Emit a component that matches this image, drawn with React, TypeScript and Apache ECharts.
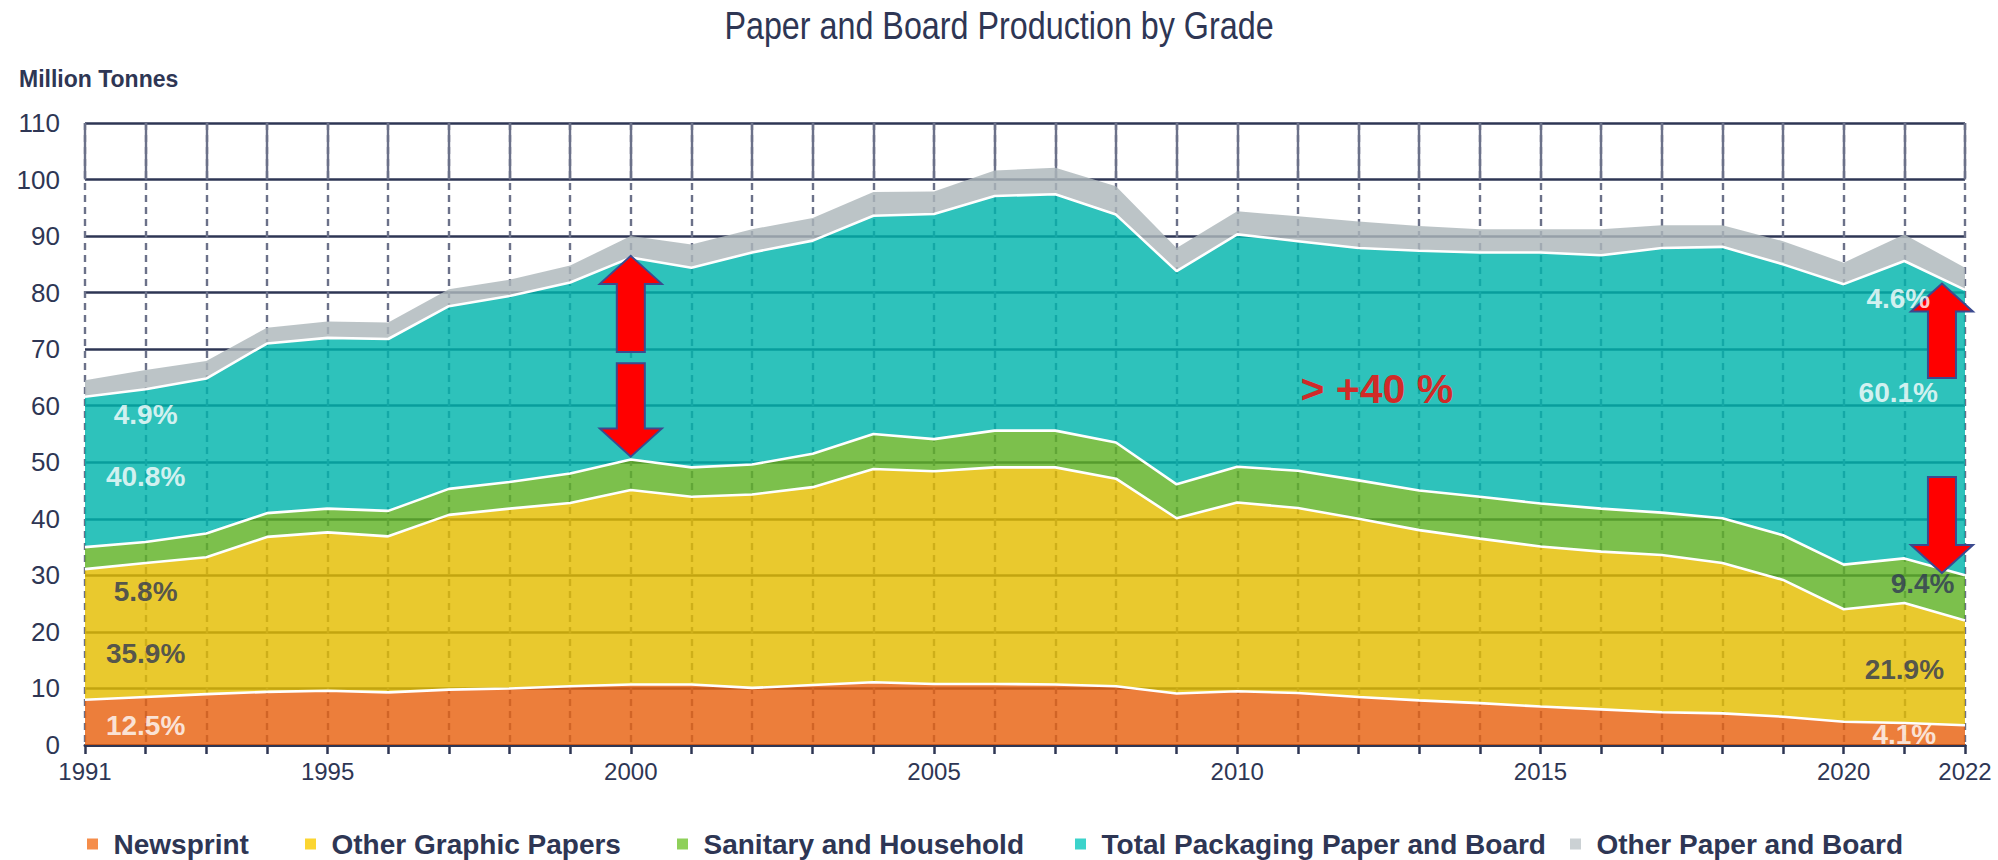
import React, { useEffect, useRef } from "react";
import * as echarts from "echarts";

const years = [
  1991, 1992, 1993, 1994, 1995, 1996, 1997, 1998, 1999, 2000, 2001, 2002, 2003, 2004, 2005, 2006,
  2007, 2008, 2009, 2010, 2011, 2012, 2013, 2014, 2015, 2016, 2017, 2018, 2019, 2020, 2021, 2022,
];
const newsprint = [
  8.0, 8.5, 9.0, 9.4, 9.6, 9.3, 9.8, 10.0, 10.4, 10.7, 10.7, 10.1, 10.6, 11.1, 10.8, 10.8,
  10.7, 10.4, 9.1, 9.5, 9.2, 8.5, 7.9, 7.4, 6.8, 6.3, 5.8, 5.6, 5.0, 4.1, 3.9, 3.5,
];
const otherGraphic = [
  23.1, 23.7, 24.2, 27.4, 28.0, 27.6, 30.9, 31.8, 32.4, 34.4, 33.2, 34.2, 35.0, 37.7, 37.6, 38.3,
  38.4, 36.7, 31.0, 33.4, 32.7, 31.5, 30.1, 29.1, 28.3, 27.9, 27.8, 26.6, 24.2, 19.9, 21.2, 18.5,
];
const sanitary = [
  3.9, 3.7, 4.2, 4.2, 4.2, 4.5, 4.6, 4.7, 5.2, 5.4, 5.2, 5.3, 5.9, 6.2, 5.7, 6.5,
  6.5, 6.4, 6.0, 6.3, 6.6, 6.8, 7.0, 7.4, 7.6, 7.6, 7.5, 7.9, 7.9, 7.9, 7.9, 8.0,
];
const packaging = [
  26.6, 27.0, 27.4, 30.0, 30.2, 30.4, 32.3, 32.9, 33.8, 35.7, 35.3, 37.5, 37.7, 38.6, 39.8, 41.5,
  41.8, 40.3, 37.7, 41.1, 40.6, 41.1, 42.4, 43.2, 44.4, 44.8, 46.8, 48.0, 47.9, 49.6, 52.6, 50.5,
];
const otherPaperBoard = [
  2.9, 3.4, 3.1, 2.8, 2.9, 2.9, 3.0, 2.9, 3.0, 3.8, 4.1, 4.1, 4.0, 4.2, 4.0, 4.5,
  4.7, 5.0, 4.1, 4.1, 4.4, 4.7, 4.4, 4.1, 4.1, 4.6, 4.0, 3.8, 4.1, 3.8, 4.7, 3.9,
];
const seriesNames = [
  "Newsprint",
  "Other Graphic Papers",
  "Sanitary and Household",
  "Total Packaging Paper and Board",
  "Other Paper and Board",
];
const xTickLabels = ["1991", "1995", "2000", "2005", "2010", "2015", "2020", "2022"];
const share1991 = ["12.5%", "35.9%", "5.8%", "40.8%", "4.9%"];
const share2022 = ["4.1%", "21.9%", "9.4%", "60.1%", "4.6%"];
const growthText = "> +40 %";
const chartTitle = "Paper and Board Production by Grade";
const unitLabel = "Million Tonnes";

// ---- styling / layout (kept apart from data) ----
const FONT = "'Liberation Sans', Arial, sans-serif";
const NAVY = "#2e3654";
const areaColors = [
  "rgba(232,98,16,0.82)",
  "rgba(228,189,0,0.82)",
  "rgba(95,178,36,0.82)",
  "rgba(0,181,172,0.82)",
  "rgba(173,183,187,0.82)",
];
const legendColors = ["#f58d4a", "#fbd531", "#8fd05a", "#3cd3cb", "#cbd1d4"];
const legendLeft = [87, 305, 677, 1075, 1570];
const share1991Pos = [
  [1992.0, 3.5],
  [1992.0, 16.2],
  [1992.0, 27.2],
  [1992.0, 47.4],
  [1992.0, 58.4],
];
const share2022Pos = [
  [2021.0, 1.9],
  [2021.0, 13.3],
  [2021.3, 28.6],
  [2020.9, 62.3],
  [2020.9, 78.9],
];
const shareColors = ["#ffffff", NAVY, NAVY, "#ffffff", "#ffffff"];
const growthPos = [2012.3, 63.0];
// arrows: [x, tip value, tail value]
const arrows = [
  [2000, 86.5, 69.5],
  [2000, 51.0, 67.5],
  [2021.62, 81.6, 64.9],
  [2021.62, 30.4, 47.4],
];

const GRID = { left: 85, top: 123, width: 1880, height: 622 };

export default function App() {
  const ref = useRef<HTMLDivElement>(null);

  useEffect(() => {
    document.body.style.margin = "0";
    if (!ref.current) return;
    const chart = echarts.init(ref.current, null, { renderer: "svg" });

    const stacks = [newsprint, otherGraphic, sanitary, packaging, otherPaperBoard];
    const yearCats = years.map(String);
    const areaSeries = stacks.map((vals, i) => ({
      name: seriesNames[i],
      type: "line",
      stack: "total",
      symbol: "none",
      z: 8 - i,
      xAxisIndex: 0,
      yAxisIndex: 0,
      data: vals,
      lineStyle: i === 4 ? { width: 0, opacity: 0 } : { color: "#ffffff", width: 2.6 },
      itemStyle: { color: legendColors[i] },
      areaStyle: { color: areaColors[i], opacity: 1 },
      emphasis: { disabled: true },
    }));

    const labelData = [
      ...share1991.map((t, i) => ({
        name: t,
        value: share1991Pos[i],
        label: { color: shareColors[i], fontSize: 28 },
      })),
      ...share2022.map((t, i) => ({
        name: t,
        value: share2022Pos[i],
        label: { color: shareColors[i], fontSize: 28 },
      })),
      {
        name: growthText,
        value: growthPos,
        label: { color: "#ff0000", fontSize: 41 },
      },
    ];

    const option: any = {
      animation: false,
      textStyle: { fontFamily: FONT },
      title: [
        {
          text: unitLabel,
          left: 14,
          top: 61,
          textStyle: { fontFamily: FONT, fontSize: 23, fontWeight: "bold", color: NAVY, lineHeight: 26 },
        },
      ],
      graphic: [
        {
          type: "text",
          x: 999,
          y: 26,
          scaleX: 0.85,
          silent: true,
          style: {
            text: chartTitle,
            fontFamily: FONT,
            fontSize: 38,
            fill: NAVY,
            align: "center",
            verticalAlign: "middle",
          },
        },
      ],
      legend: seriesNames.map((n, i) => ({
        left: legendLeft[i],
        top: 830,
        itemWidth: 32,
        itemHeight: 11,
        padding: 0,
        icon: "path://M0,0H10V10H0Z",
        selectedMode: false,
        data: [{ name: n, itemStyle: { color: legendColors[i] } }],
        textStyle: { fontFamily: FONT, fontSize: 28, fontWeight: "bold", color: NAVY, lineHeight: 27 },
      })),
      grid: [
        { ...GRID, containLabel: false },
        { left: GRID.left, top: GRID.top, width: GRID.width, height: (GRID.height * 10) / 110 },
      ],
      xAxis: [
        {
          type: "category",
          gridIndex: 0,
          data: yearCats,
          boundaryGap: false,
          axisLine: { show: true, onZero: true, lineStyle: { color: NAVY, width: 3 } },
          axisTick: { show: true, interval: 0, length: 9, lineStyle: { color: NAVY, width: 2.5 } },
          axisLabel: {
            show: true,
            interval: 0,
            margin: 14,
            fontFamily: FONT,
            fontSize: 24,
            color: NAVY,
            formatter: (v: string) => (xTickLabels.includes(v) ? v : ""),
          },
          splitLine: { show: true, interval: 0, lineStyle: { color: "#6b7189", width: 2.4, type: [7, 5] } },
        },
        {
          type: "category",
          gridIndex: 1,
          data: yearCats,
          boundaryGap: false,
          axisLine: { show: false },
          axisTick: { show: false },
          axisLabel: { show: false },
          splitLine: { show: true, interval: 0, lineStyle: { color: "#6b7189", width: 2.4, type: "solid" } },
        },
        {
          type: "value",
          gridIndex: 0,
          min: 1991,
          max: 2022,
          show: false,
          splitLine: { show: false },
        },
      ],
      yAxis: [
        {
          type: "value",
          gridIndex: 0,
          min: 0,
          max: 110,
          interval: 10,
          axisLine: { show: false },
          axisTick: { show: false },
          axisLabel: { margin: 25, fontFamily: FONT, fontSize: 26, color: NAVY },
          splitLine: { show: true, lineStyle: { color: NAVY, width: 2.6 } },
        },
        { type: "value", gridIndex: 1, min: 0, max: 1, show: false, splitLine: { show: false } },
      ],
      series: [
        ...areaSeries,
        {
          type: "custom",
          name: "arrows",
          xAxisIndex: 2,
          yAxisIndex: 0,
          z: 20,
          silent: true,
          clip: false,
          data: arrows,
          renderItem: (params: any, api: any) => {
            const x = api.value(0);
            const tip = api.coord([x, api.value(1)]);
            const tail = api.coord([x, api.value(2)]);
            const dir = tail[1] > tip[1] ? 1 : -1;
            const cx = tip[0];
            const headLen = 28;
            const hw = 31;
            const sw = 14;
            const hb = tip[1] + dir * headLen;
            const points = [
              [cx, tip[1]],
              [cx + hw, hb],
              [cx + sw, hb],
              [cx + sw, tail[1]],
              [cx - sw, tail[1]],
              [cx - sw, hb],
              [cx - hw, hb],
            ];
            return {
              type: "polygon",
              shape: { points },
              style: { fill: "#ff0000", stroke: "#3b4a8f", lineWidth: 2 },
            };
          },
        },
        {
          type: "scatter",
          name: "labels",
          xAxisIndex: 2,
          yAxisIndex: 0,
          z: 30,
          silent: true,
          symbolSize: 1,
          itemStyle: { color: "rgba(0,0,0,0)" },
          label: {
            show: true,
            position: "inside",
            formatter: "{b}",
            fontFamily: FONT,
            fontWeight: "bold",
          },
          data: labelData,
        },
      ],
    };

    chart.setOption(option);
    return () => chart.dispose();
  }, []);

  return <div ref={ref} style={{ width: 1998, height: 860 }} />;
}
